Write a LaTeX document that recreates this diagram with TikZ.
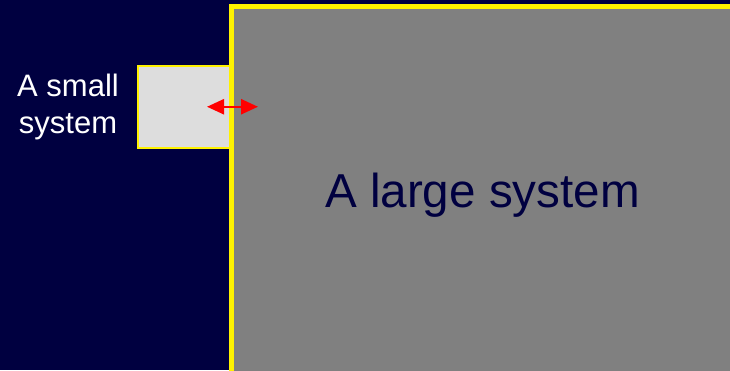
\documentclass[tikz,border=0pt]{standalone}
\usepackage{fontspec}
\setmainfont{Liberation Sans}
\usetikzlibrary{arrows.meta}
\definecolor{navybg}{RGB}{0,0,64}
\definecolor{lightbox}{RGB}{221,221,221}
\definecolor{largebox}{RGB}{128,128,128}
\tikzset{sysbox/.style={draw=yellow,anchor=north west,inner sep=0pt,outer sep=0pt}}

\begin{document}
\begin{tikzpicture}[x=1pt,y=-1pt,>={Triangle[length=17pt,width=15pt]}]
\useasboundingbox (0,0) rectangle (730,370);
\clip (0,0) rectangle (730,370);
\fill[navybg] (0,0) rectangle (730,370);
\node[sysbox,fill=lightbox,line width=2pt,minimum width=93.5pt,minimum height=82.5pt] (small) at (138,65.5) {};
\node[sysbox,fill=largebox,line width=5pt,minimum width=540pt,minimum height=400pt] (large) at (231.5,6.5) {};
\draw[<->,red,line width=2.5pt] ([xshift=-24.5pt]small.east) -- ([xshift=26.5pt]small.east);
\node[text=white,align=center,font=\fontsize{31}{37}\selectfont,inner sep=0pt] (smalllabel) at (68,107) {A small\\system};
\node[text=navybg,font=\fontsize{47.6}{57}\selectfont,inner sep=0pt] (largelabel) at (482.5,194.7) {A large system};
\end{tikzpicture}
\end{document}
